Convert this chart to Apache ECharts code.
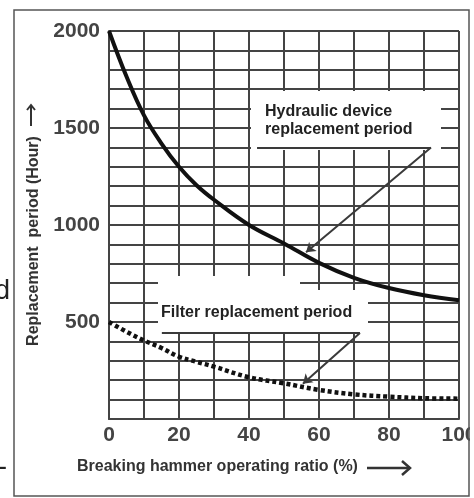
<!DOCTYPE html>
<html>
<head>
<meta charset="utf-8">
<script src="https://cdn.jsdelivr.net/npm/echarts@6/dist/echarts.min.js"></script>
<style>
    html, body { margin: 0; padding: 0; background: #fff; }
    #chart { width: 474px; height: 498px; }
</style>
</head>
<body>
<div id="chart"></div>
<script>
    // breaking hammer operating ratio (%) where the curves were read
    var ratio = [0, 5, 10, 15, 20, 25, 30, 40, 50, 60, 70, 80, 90, 100];
    // hydraulic device replacement period (Hour)
    var hydraulicHours = [2000, 1765, 1565, 1420, 1300, 1205, 1130, 1000, 905, 805, 728, 675, 638, 612];
    // filter replacement period (Hour)
    var filterHours = [500, 450, 405, 366, 321, 295, 270, 215, 184, 150, 127, 115, 107, 105];
    var xTickLabels = [0, 20, 40, 60, 80, 100];
    var yTickLabels = [500, 1000, 1500, 2000];

    function pairs(xs, ys) {
        return xs.map(function (x, i) { return [x, ys[i]]; });
    }

    var gridColor = '#444';
    var labelFont = 'Liberation Sans';

    var myChart = echarts.init(document.getElementById('chart'));
    myChart.setOption({
        animation: false,
        grid: { left: 109, right: 15, top: 31, bottom: 79, outerBoundsMode: 'none' },
        xAxis: {
            type: 'value',
            min: 0,
            max: 100,
            interval: 10,
            axisLine: { show: true, lineStyle: { color: gridColor, width: 2 } },
            axisTick: { show: false },
            splitLine: { show: true, lineStyle: { color: gridColor, width: 2 } },
            axisLabel: {
                margin: 6,
                fontSize: 21,
                fontWeight: 'bold',
                fontFamily: labelFont,
                color: '#444',
                formatter: function (v) { return xTickLabels.indexOf(v) > -1 ? String(v) : ''; }
            }
        },
        yAxis: {
            type: 'value',
            min: 0,
            max: 2000,
            interval: 100,
            axisLine: { show: true, lineStyle: { color: gridColor, width: 2 } },
            axisTick: { show: false },
            splitLine: { show: true, lineStyle: { color: gridColor, width: 2 } },
            axisLabel: {
                margin: 9,
                fontSize: 21,
                fontWeight: 'bold',
                fontFamily: labelFont,
                color: '#444',
                formatter: function (v) { return yTickLabels.indexOf(v) > -1 ? String(v) : ''; }
            }
        },
        series: [
            {
                name: 'Hydraulic device replacement period',
                type: 'line',
                data: pairs(ratio, hydraulicHours),
                smooth: 0.4,
                symbol: 'none',
                z: 3,
                lineStyle: { color: '#111', width: 4 },
                markLine: {
                    silent: true,
                    symbol: ['none', 'none'],
                    label: { show: false },
                    lineStyle: { color: '#3a3a3a', width: 2, type: 'solid' },
                    data: [
                        [{ coord: [42.3, 1400] }, { coord: [92, 1400] }],
                        [{ coord: [92, 1400] }, { coord: [56.3, 860], symbol: 'arrow', symbolSize: 9 }]
                    ]
                }
            },
            {
                name: 'Filter replacement period',
                type: 'line',
                data: pairs(ratio, filterHours),
                smooth: 0.4,
                symbol: 'none',
                z: 3,
                lineStyle: { color: '#111', width: 4.5, type: [4, 3] },
                markLine: {
                    silent: true,
                    symbol: ['none', 'none'],
                    label: { show: false },
                    lineStyle: { color: '#3a3a3a', width: 2, type: 'solid' },
                    data: [
                        [{ coord: [15.1, 443] }, { coord: [71.7, 443] }],
                        [{ coord: [71.7, 443] }, { coord: [55.4, 182], symbol: 'arrow', symbolSize: 9 }]
                    ]
                }
            }
        ],
        graphic: [
            // white boxes behind the callout texts
            { type: 'rect', z: 1, shape: { x: 251, y: 91, width: 190, height: 59 }, style: { fill: '#fff' } },
            { type: 'rect', z: 1, shape: { x: 158, y: 276, width: 142, height: 56 }, style: { fill: '#fff' } },
            { type: 'rect', z: 1, shape: { x: 300, y: 290, width: 68, height: 42 }, style: { fill: '#fff' } },
            {
                type: 'text', z: 4, x: 265, y: 112,
                style: { text: 'Hydraulic device', font: 'bold 16px "Liberation Sans"', fill: '#222', textVerticalAlign: 'middle' }
            },
            {
                type: 'text', z: 4, x: 265, y: 130,
                style: { text: 'replacement period', font: 'bold 16px "Liberation Sans"', fill: '#222', textVerticalAlign: 'middle' }
            },
            {
                type: 'text', z: 4, x: 161, y: 313,
                style: { text: 'Filter replacement period', font: 'bold 16px "Liberation Sans"', fill: '#222', textVerticalAlign: 'middle' }
            },
            // axis names with their arrows
            {
                type: 'text', z: 4, x: 34, y: 241, rotation: Math.PI / 2,
                style: { text: 'Replacement  period (Hour)', font: 'bold 16px "Liberation Sans"', fill: '#333', textAlign: 'center', textVerticalAlign: 'middle' }
            },
            { type: 'polyline', z: 4, shape: { points: [[31, 126], [31, 105]] }, style: { stroke: '#333', lineWidth: 2 } },
            { type: 'polyline', z: 4, shape: { points: [[27, 110], [31, 105], [35, 110]] }, style: { stroke: '#333', lineWidth: 2, fill: null } },
            {
                type: 'text', z: 4, x: 77, y: 467,
                style: { text: 'Breaking hammer operating ratio (%)', font: 'bold 16px "Liberation Sans"', fill: '#333', textVerticalAlign: 'middle' }
            },
            { type: 'polyline', z: 4, shape: { points: [[367, 468], [410, 468]] }, style: { stroke: '#333', lineWidth: 2.5 } },
            { type: 'polyline', z: 4, shape: { points: [[402, 461], [410, 468], [402, 475]] }, style: { stroke: '#333', lineWidth: 2.5, fill: null } },
            // frame of the scanned figure and bits of text cut off outside it
            { type: 'rect', z: 9, shape: { x: 470, y: 0, width: 4, height: 498 }, style: { fill: '#fff' } },
            { type: 'rect', z: 10, shape: { x: 14, y: 10, width: 455, height: 486 }, style: { fill: null, stroke: '#555', lineWidth: 1.5 } },
            { type: 'text', z: 10, x: -5, y: 292, style: { text: 'd', font: '27px "Liberation Sans"', fill: '#222', textVerticalAlign: 'middle' } },
            { type: 'text', z: 10, x: -2, y: 468, style: { text: '-', font: '27px "Liberation Sans"', fill: '#222', textVerticalAlign: 'middle' } }
        ]
    });
</script>
</body>
</html>
